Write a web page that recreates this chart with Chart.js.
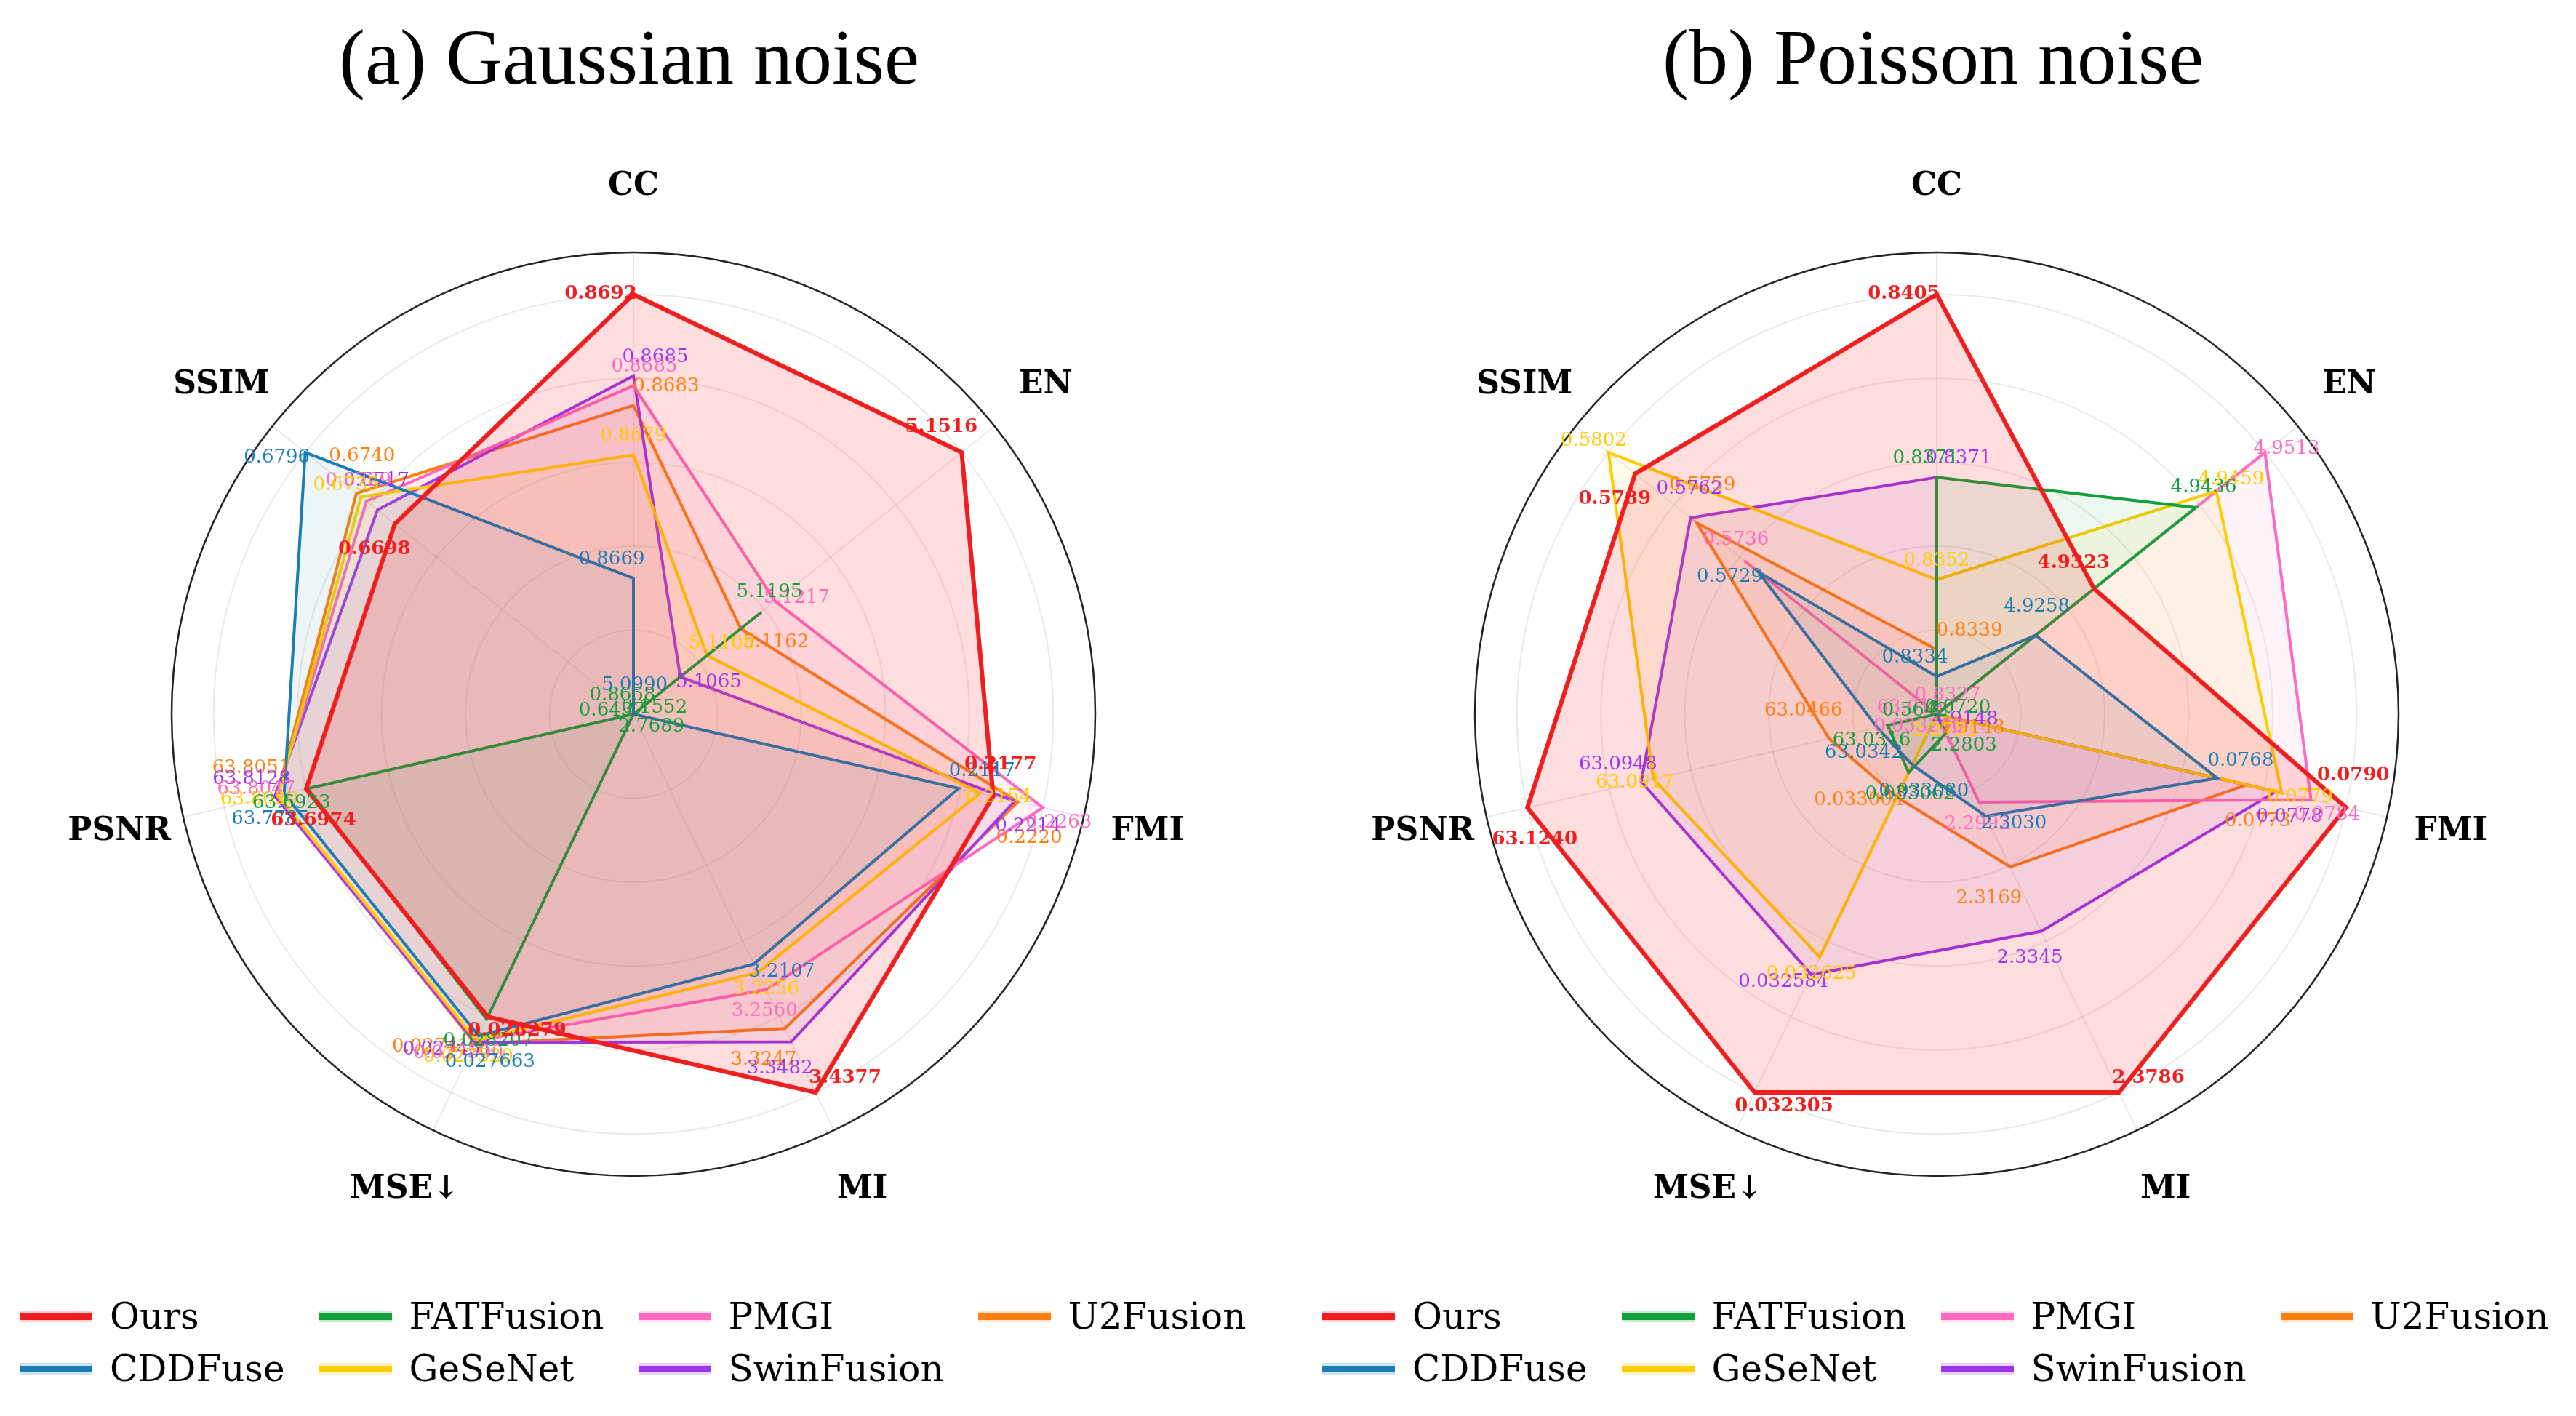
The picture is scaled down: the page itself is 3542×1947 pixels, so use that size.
<!DOCTYPE html>
<html>
<head>
<meta charset="utf-8">
<script src="https://cdn.jsdelivr.net/npm/chart.js@4.4.0/dist/chart.umd.min.js"></script>
<style>
  html, body { margin: 0; padding: 0; background: #fff; }
  body { width: 3542px; height: 1947px; position: relative; overflow: hidden; font-family: 'DejaVu Serif', serif; }
  .title { position: absolute; top: 14px; width: 1400px; text-align: center; font-family: 'Liberation Serif', 'Times New Roman', serif; font-size: 108px; line-height: 130px; color: #000; }
  canvas { position: absolute; top: 132px; }
  .legend { position: absolute; top: 1774px; display: grid; grid-template-rows: 72px 72px; grid-auto-flow: column; column-gap: 47px; }
  .item { display: flex; align-items: center; font-size: 50px; white-space: nowrap; color: #000; }
  .swatch { width: 100px; height: 16px; margin-right: 24px; display: flex; align-items: center; }
  .swatch span { display: block; width: 100%; height: 9px; }
</style>
</head>
<body>
<div class="title" style="left:165px">(a) Gaussian noise</div>
<div class="title" style="left:1958px">(b) Poisson noise</div>
<canvas id="gauss" width="1700" height="1700" style="left:21px"></canvas>
<canvas id="poisson" width="1700" height="1700" style="left:1813px"></canvas>
<div class="legend" id="legendA" style="left:27px"></div>
<div class="legend" id="legendB" style="left:1818px"></div>
<script>
const metrics = ['CC', 'EN', 'FMI', 'MI', 'MSE↓', 'PSNR', 'SSIM'];
const methods = ['Ours', 'CDDFuse', 'FATFusion', 'GeSeNet', 'PMGI', 'SwinFusion', 'U2Fusion'];
const colors = ['#f01e1e', '#1a7db6', '#13a03c', '#ffcc00', '#ff69c0', '#9b35f0', '#ff7f0e'];
const rings = [0, 0.2, 0.4, 0.6, 0.8, 1.0, 1.1];

// (a) Gaussian noise, metric order as above
const gaussOurs       = [0.8692, 5.1516, 0.2177, 3.4377, 0.028279, 63.6974, 0.6698];
const gaussCDDFuse    = [0.8669, 5.0990, 0.2117, 3.2107, 0.027663, 63.7785, 0.6796];
const gaussFATFusion  = [0.8658, 5.1195, 0.1552, 2.7689, 0.028207, 63.6923, 0.6437];
const gaussGeSeNet    = [0.8679, 5.1108, 0.2154, 3.2256, 0.027520, 63.8020, 0.6735];
const gaussPMGI       = [0.86846, 5.1217, 0.2263, 3.2560, 0.027500, 63.8047, 0.6729];
const gaussSwinFusion = [0.86854, 5.1065, 0.2214, 3.3482, 0.027451, 63.8128, 0.6717];
const gaussU2Fusion   = [0.8683, 5.1162, 0.2220, 3.3247, 0.027410, 63.8051, 0.6740];
// value at the centre / value at the 1.0 ring, per metric
const gaussLo = [0.8658, 5.0990, 0.1552, 2.7689, 0.03813, 62.49, 0.6437];
const gaussHi = [0.8692, 5.1516, 0.2263, 3.4377, 0.02582, 64.00, 0.6796];

// (b) Poisson noise
const poisOurs       = [0.8405, 4.9323, 0.0790, 2.3786, 0.032305, 63.1240, 0.5789];
const poisCDDFuse    = [0.8334, 4.9258, 0.0768, 2.3030, 0.033080, 63.0342, 0.5729];
const poisFATFusion  = [0.8371, 4.9436, 0.0720, 2.2803, 0.033062, 63.0316, 0.5642];
const poisGeSeNet    = [0.8352, 4.9459, 0.0779, 2.2751, 0.032625, 63.0917, 0.5802];
const poisPMGI       = [0.8327, 4.9513, 0.0784, 2.2992, 0.033200, 63.0190, 0.5736];
const poisSwinFusion = [0.8371, 4.9148, 0.0778, 2.3345, 0.032584, 63.0948, 0.5762];
const poisU2Fusion   = [0.8339, 4.9148, 0.0773, 2.3169, 0.033004, 63.0466, 0.5759];
const poisLo = [0.8327, 4.9148, 0.0720, 2.2751, 0.033200, 63.0190, 0.5642];
const poisHi = [0.8405, 4.9513, 0.0790, 2.3786, 0.032305, 63.1240, 0.5802];

function fmt(v, j) {
    return j === 4 ? v.toFixed(6) : v.toFixed(4);
}

function hexA(hex, a) {
    const n = parseInt(hex.slice(1), 16);
    return 'rgba(' + (n >> 16) + ',' + ((n >> 8) & 255) + ',' + (n & 255) + ',' + a + ')';
}

const valueLabels = {
    id: 'valueLabels',
    afterDatasetsDraw(chart, args, opts) {
        const scale = chart.scales.r;
        const ctx = chart.ctx;
        ctx.save();
        ctx.textAlign = 'center';
        ctx.textBaseline = 'middle';
        // draw Ours last so it sits on top
        for (let m = methods.length - 1; m >= 0; m--) {
            chart.data.datasets[m].data.forEach((t, j) => {
                const a = scale.getIndexAngle(j) - Math.PI / 2;
                const r = scale.getDistanceFromCenterForValue(t) + (m === 0 ? 0 : 26);
                const s = (m - 3) * 15;
                const x = scale.xCenter + Math.cos(a) * r - Math.sin(a) * s;
                const y = scale.yCenter + Math.sin(a) * r + Math.cos(a) * s;
                ctx.font = (m === 0 ? 'bold ' : '') + '26px "DejaVu Serif"';
                ctx.fillStyle = colors[m];
                ctx.fillText(fmt(opts.raw[m][j], j), x, y);
            });
        }
        ctx.font = 'bold 44px "DejaVu Serif"';
        ctx.fillStyle = '#000';
        metrics.forEach((name, j) => {
            const p = scale.getPointPosition(j, scale.drawingArea + 90);
            ctx.fillText(name, p.x, p.y);
        });
        ctx.restore();
    }
};

function renderRadar(canvasId, raw, lo, hi) {
    if (typeof Chart === 'undefined') {
        throw new Error('Chart.js not loaded.');
    }
    const ctx = document.getElementById(canvasId).getContext('2d');
    return new Chart(ctx, {
        type: 'radar',
        data: {
            labels: metrics,
            datasets: raw.map((vals, m) => ({
                label: methods[m],
                data: vals.map((v, j) => Math.max(0, Math.min(1.1, (v - lo[j]) / (hi[j] - lo[j])))),
                borderColor: colors[m],
                backgroundColor: hexA(colors[m], m === 0 ? 0.15 : 0.08),
                borderWidth: m === 0 ? 6 : 4,
                fill: true,
                pointRadius: 0,
                tension: 0
            }))
        },
        plugins: [valueLabels],
        options: {
            responsive: false,
            animation: false,
            devicePixelRatio: 1,
            layout: { padding: 215 },
            plugins: {
                legend: { display: false },
                tooltip: { enabled: false },
                valueLabels: { raw: raw }
            },
            scales: {
                r: {
                    min: 0,
                    max: 1.1,
                    startAngle: 0,
                    afterBuildTicks: scale => { scale.ticks = rings.map(v => ({ value: v })); },
                    ticks: { display: false },
                    pointLabels: { display: false },
                    grid: {
                        circular: true,
                        color: c => (c.tick && c.tick.value > 1.05) ? '#222' : 'rgba(0,0,0,0.09)',
                        lineWidth: c => (c.tick && c.tick.value > 1.05) ? 2.5 : 2
                    },
                    angleLines: { color: 'rgba(0,0,0,0.09)', lineWidth: 2 }
                }
            }
        }
    });
}

function renderLegend(id) {
    const box = document.getElementById(id);
    methods.forEach((name, m) => {
        const item = document.createElement('div');
        item.className = 'item';
        item.innerHTML = '<div class="swatch" style="background:' + hexA(colors[m], 0.22) +
            '"><span style="background:' + colors[m] + '"></span></div>' + name;
        box.appendChild(item);
    });
}

renderRadar('gauss', [gaussOurs, gaussCDDFuse, gaussFATFusion, gaussGeSeNet, gaussPMGI, gaussSwinFusion, gaussU2Fusion], gaussLo, gaussHi);
renderRadar('poisson', [poisOurs, poisCDDFuse, poisFATFusion, poisGeSeNet, poisPMGI, poisSwinFusion, poisU2Fusion], poisLo, poisHi);
renderLegend('legendA');
renderLegend('legendB');
</script>
</body>
</html>
